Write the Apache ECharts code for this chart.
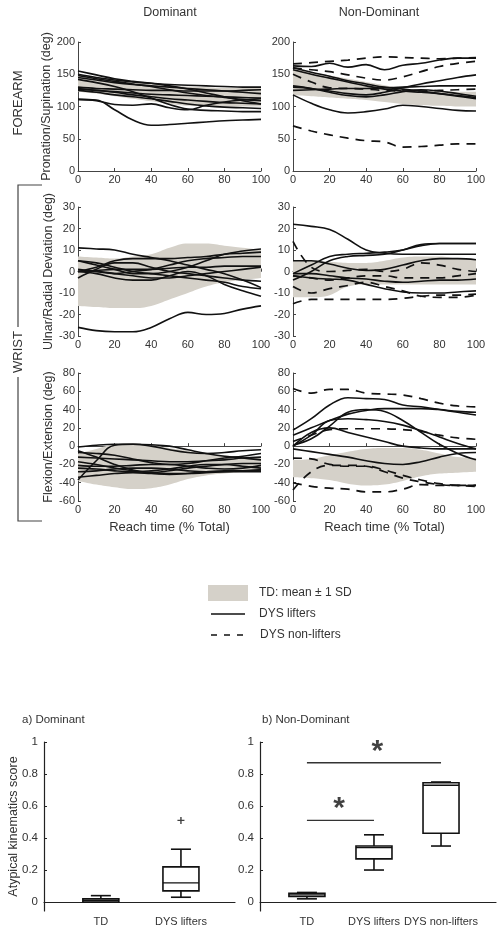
<!DOCTYPE html>
<html><head><meta charset="utf-8">
<script src="https://cdn.jsdelivr.net/npm/echarts@6/dist/echarts.min.js"></script>
<style>html,body{margin:0;padding:0;background:#fff}#c{width:499px;height:933px}</style>
</head><body><div id="c"></div><script>
// ---------- DATA ----------
const reachPct = [0,10,20,30,40,50,60,70,80,90,100];

// Forearm pronation/supination – Dominant
const domPS_bandLo = [123,120,116,112,108,104,101,100,100,100,100];
const domPS_bandHi = [150,146,142,139,136,133,131,130,129,129,129];
const domPS_lifters = [
  [155,149,143,139,136,132,127,121,115,109,104],
  [150,145,141,138,136,134,133,132,131,130,130],
  [145,141,137,134,132,130,128,126,124,122,120],
  [142,137,131,123,113,103,96,94,93,92,92],
  [130,128,127,126,125,125,124,124,124,125,126],
  [128,125,122,118,115,112,110,108,106,105,104],
  [125,122,118,115,112,108,104,101,99,98,97],
  [111,110,95,79,71,72,74,76,78,79,80],
  [111,109,103,102,104,98,95,102,107,110,112],
  [148,143,139,135,131,126,121,117,114,111,109],
  [127,125,123,121,119,118,117,116,115,114,113]
];
const domPS_nonlifters = [];

// Forearm pronation/supination – Non-Dominant
const ndPS_bandLo = [118,116,114,112,110,107,104,102,101,100,100];
const ndPS_bandHi = [158,153,148,143,138,133,128,125,124,123,123];
const ndPS_lifters = [
  [163,162,167,161,165,157,164,167,172,175,175],
  [160,153,147,140,135,130,127,124,120,116,112],
  [157,150,144,138,132,127,124,122,120,117,114],
  [130,128,124,120,118,122,129,135,140,145,149],
  [125,126,127,128,128,129,130,131,132,132,132],
  [132,128,122,117,115,118,123,126,124,120,116],
  [118,105,95,90,92,96,102,100,97,94,93]
];
const ndPS_nonlifters = [
  [166,168,170,172,175,177,176,175,174,175,176],
  [160,157,154,149,144,141,146,154,162,167,170],
  [70,62,56,51,47,45,37,38,40,42,42],
  [150,138,129,128,127,125,124,124,125,126,127]
];

// Wrist ulnar/radial deviation – Dominant
const domUR_bandLo = [-16,-16.5,-17,-17,-16,-13,-10,-7,-5,-4,-3];
const domUR_bandHi = [7,6.5,6,7,8,11,13,13,12,11,10];
const domUR_lifters = [
  [11,10.5,10,8,6.5,5,3,1,-1,-4,-7.5],
  [5,3,1,-1,-1,0,2,5,8,9.5,10.5],
  [0,2,5,6,6,6,6.5,7,8,8.5,9],
  [1,0,-1,0,1,3,5,6,6.5,7,7],
  [0,0.5,1,1,1,1.5,2,2,2.5,2.5,2.5],
  [-3,1,4,4,2,0,-1,-2,-3,-4,-4.5],
  [5,4,2,0,-1,-2,-3,-4,-5,-7,-8],
  [0,-1,-3,-4,-4,-2,0,-2,-6,-9,-11.5],
  [0,0,-1,-2,-3,-3,-2,-1,0,1,2],
  [-26,-27.5,-28,-28,-26,-22,-19,-20,-19.5,-17.5,-16]
];
const domUR_nonlifters = [];

// Wrist ulnar/radial deviation – Non-Dominant
const ndUR_bandLo = [-12,-12,-11,-7,-6,-6,-6,-6,-6,-6,-6];
const ndUR_bandHi = [5,5,4.5,4,4,5,6.5,7,7,6,5.5];
const ndUR_lifters = [
  [22,21,19.5,15,10,8.5,8,8,8,8,8],
  [-1,3,7,8,8.5,9,10,12,13,13,13],
  [5,5,3.5,1.5,0.5,1,3,5,6,6,5.5],
  [-4,0,5,7,7.5,8,10,12.5,13,13,13],
  [-2,-3,-3.5,-4,-6,-8,-9.5,-10,-10,-9.5,-9],
  [-1,-1,-2,-3,-3.5,-4.5,-5,-4.5,-4,-4,-3.5]
];
const ndUR_nonlifters = [
  [14,2,0,0.5,1,0,1,4,3,1,0],
  [-15,-13,-13,-13,-13,-13,-12.5,-11.5,-11,-11,-10.5],
  [-7,-10,-8,-6.5,-5,-7,-9,-11.5,-12,-12,-11],
  [-2,-3,-4,-3,-2,-2,-3,-3,-3,-2,-1]
];

// Wrist flexion/extension – Dominant
const domFE_bandLo = [-38,-42,-45,-47,-46,-42,-36,-32,-30,-28,-27];
const domFE_bandHi = [-8,-3,2,3,1,-2,-5,-8,-10,-12,-13];
const domFE_lifters = [
  [-37,-16,1,2,1.5,0,-4,-8,-11,-13,-15],
  [-1,1,2,2,0,-4,-7,-8,-7,-5,-4],
  [-7,-8,-10,-14,-18,-20,-19,-16,-13,-11,-8],
  [-12,-13,-14,-15,-16,-17,-17,-16,-15,-13,-12],
  [-17,-20,-24,-27,-29,-27,-24,-22,-20,-19,-19],
  [-21,-22,-22,-21,-20,-20,-22,-24,-25,-24,-21],
  [-24,-25,-27,-28,-27,-25,-22,-20,-20,-22,-24],
  [-28,-27,-25,-24,-24,-25,-27,-28,-28,-28,-28],
  [-34,-32,-30,-29,-30,-31,-30,-28,-27,-27,-26],
  [-5,-12,-20,-26,-29,-30,-30,-29,-28,-27,-26]
];
const domFE_nonlifters = [];

// Wrist flexion/extension – Non-Dominant
const ndFE_bandLo = [-34,-35,-37,-41,-43,-42,-38,-33,-30,-29,-28];
const ndFE_bandHi = [-15,-14,-10,-6,-3,-2,-2,-4,-8,-12,-13];
const ndFE_lifters = [
  [17.5,30,45,53,52,51,45,43,40,37,34],
  [12,20,28,35,39,41,41,41,40,38,37],
  [1,8,22,37,40,38,28,15,2,-8,-15],
  [0,12,28,30,29,27,23,17,10,3,-3],
  [0,15,20,15,10,5,0,-2,-3,-3,-3],
  [-3,-6,-9,-12,-16,-19,-20,-17,-12,-8,-7]
];
const ndFE_nonlifters = [
  [63,58,62,62,58,57,56,52,47,44,43],
  [5,12,18,19,19,19,18,16,12,9,7.5],
  [-48,-28,-21,-21,-22,-28,-35,-39,-42,-43,-43],
  [-40,-44,-46,-47,-50,-50,-47,-42,-43,-43,-43],
  [-13,-14,-20,-22,-22,-26,-32,-37,-41,-43,-44]
];

// Box plots: [lowerWhisker, q1, median, q3, upperWhisker]
const boxDomCats = ['TD','DYS lifters'];
const boxDomStats = [[0,0,0.01,0.02,0.04],[0.03,0.07,0.12,0.22,0.33]];
const boxDomOutliers = [[2,0.51]];
const boxNdCats = ['TD','DYS lifters','DYS non-lifters'];
const boxNdStats = [[0.02,0.035,0.045,0.055,0.06],[0.20,0.27,0.34,0.35,0.42],[0.35,0.43,0.73,0.745,0.75]];
const sigBars = [[1,3,0.87],[1,2,0.51]];
const sigStars = [[2.05,0.94],[1.48,0.58]];
const boxYTicks = [0,0.2,0.4,0.6,0.8,1];

// ---------- CHART ----------
const FONT = '"Liberation Sans", Arial, sans-serif';
const TXT = '#333';
const chart = echarts.init(document.getElementById('c'), null, {renderer:'canvas'});

const panels = [
  {g:{left:78,top:42,width:183,height:129}, y:[0,200,50], lo:domPS_bandLo, hi:domPS_bandHi, s:domPS_lifters, d:domPS_nonlifters, yName:'Pronation/Supination (deg)'},
  {g:{left:293,top:42,width:183,height:129}, y:[0,200,50], lo:ndPS_bandLo, hi:ndPS_bandHi, s:ndPS_lifters, d:ndPS_nonlifters},
  {g:{left:78,top:207,width:183,height:129}, y:[-30,30,10], lo:domUR_bandLo, hi:domUR_bandHi, s:domUR_lifters, d:domUR_nonlifters, yName:'Ulnar/Radial Deviation (deg)'},
  {g:{left:293,top:207,width:183,height:129}, y:[-30,30,10], lo:ndUR_bandLo, hi:ndUR_bandHi, s:ndUR_lifters, d:ndUR_nonlifters},
  {g:{left:78,top:373,width:183,height:128}, y:[-60,80,20], lo:domFE_bandLo, hi:domFE_bandHi, s:domFE_lifters, d:domFE_nonlifters, yName:'Flexion/Extension (deg)', xName:'Reach time (% Total)'},
  {g:{left:293,top:373,width:183,height:128}, y:[-60,80,20], lo:ndFE_bandLo, hi:ndFE_bandHi, s:ndFE_lifters, d:ndFE_nonlifters, xName:'Reach time (% Total)'}
];

const grid=[], xAxis=[], yAxis=[], series=[];
const axisLineStyle = {color:'#444', width:1};
panels.forEach((p,i)=>{
  grid.push(Object.assign({containLabel:false}, p.g));
  xAxis.push({type:'category', gridIndex:i, data:reachPct.map(String), boundaryGap:false,
    axisLine:{lineStyle:axisLineStyle}, axisTick:{inside:true,length:3,interval:1,lineStyle:axisLineStyle},
    axisLabel:{interval:1,color:TXT,fontSize:11,fontFamily:FONT,margin:3},
    splitLine:{show:false},
    name:p.xName||'', nameLocation:'middle', nameGap:20, nameTextStyle:{color:TXT,fontSize:13,fontFamily:FONT}});
  yAxis.push({type:'value', gridIndex:i, min:p.y[0], max:p.y[1], interval:p.y[2],
    axisLine:{show:true,lineStyle:axisLineStyle}, axisTick:{show:true,inside:true,length:3,lineStyle:axisLineStyle},
    axisLabel:{color:TXT,fontSize:11,fontFamily:FONT,margin:3}, splitLine:{show:false},
    name:p.yName||'', nameLocation:'middle', nameGap:23, nameTextStyle:{color:TXT,fontSize:12.5,fontFamily:FONT}});
  series.push({type:'line', xAxisIndex:i, yAxisIndex:i, data:p.lo, stack:'band'+i, stackStrategy:'all', smooth:0.4, symbol:'none',
    lineStyle:{opacity:0}, silent:true, z:1});
  series.push({type:'line', xAxisIndex:i, yAxisIndex:i, data:p.hi.map((v,k)=>v-p.lo[k]), stack:'band'+i, stackStrategy:'all', smooth:0.4, symbol:'none',
    lineStyle:{opacity:0}, areaStyle:{color:'#d5d1c9',opacity:1}, silent:true, z:1});
  p.s.forEach(arr=>series.push({type:'line', xAxisIndex:i, yAxisIndex:i, data:arr, smooth:0.4, symbol:'none',
    lineStyle:{color:'#111',width:1.6}, z:3}));
  p.d.forEach(arr=>series.push({type:'line', xAxisIndex:i, yAxisIndex:i, data:arr, smooth:0.4, symbol:'none',
    lineStyle:{color:'#111',width:1.7,type:[9,7]}, z:3}));
});

// Box plot grids
const boxGrids = [
  {g:{left:44,top:742,width:191,height:169}, xr:[0.29,2.675], cats:boxDomCats, stats:boxDomStats, yName:'Atypical kinematics score'},
  {g:{left:260,top:742,width:236,height:169}, xr:[0.3,3.82], cats:boxNdCats, stats:boxNdStats}
];
boxGrids.forEach((b,j)=>{
  const i = panels.length + j;
  grid.push(b.g);
  xAxis.push({type:'value', gridIndex:i, min:b.xr[0], max:b.xr[1],
    axisLine:{lineStyle:{color:'#222',width:1.2}}, axisTick:{show:false}, splitLine:{show:false},
    axisLabel:{customValues:b.cats.map((c,k)=>k+1), formatter:v=>b.cats[Math.round(v)-1]||'', hideOverlap:false,
      color:TXT,fontSize:11,fontFamily:FONT,margin:5}});
  yAxis.push({type:'value', gridIndex:i, min:-0.056, max:1,
    axisLine:{show:true,lineStyle:{color:'#222',width:1.2}},
    axisTick:{show:true,inside:true,length:3,customValues:boxYTicks,lineStyle:{color:'#222'}},
    axisLabel:{customValues:boxYTicks, formatter:v=>String(Math.round(v*10)/10), color:TXT,fontSize:11.5,fontFamily:FONT,margin:6},
    splitLine:{show:false},
    name:b.yName||'', nameLocation:'middle', nameGap:24, nameMoveOverlap:false, nameTextStyle:{color:TXT,fontSize:12.5,fontFamily:FONT}});
  series.push({type:'custom', xAxisIndex:i, yAxisIndex:i,
    data:b.stats.map((s,k)=>[k+1].concat(s)),
    renderItem:(params, api)=>{
      const x=api.value(0);
      const pLo=api.coord([x,api.value(1)]), pQ1=api.coord([x,api.value(2)]), pMed=api.coord([x,api.value(3)]),
            pQ3=api.coord([x,api.value(4)]), pHi=api.coord([x,api.value(5)]);
      const hw=18, cw=10, cx=pQ1[0];
      const st={stroke:'#111',lineWidth:1.6,fill:null};
      return {type:'group', children:[
        {type:'line',shape:{x1:cx,y1:pQ3[1],x2:cx,y2:pHi[1]},style:st},
        {type:'line',shape:{x1:cx,y1:pQ1[1],x2:cx,y2:pLo[1]},style:st},
        {type:'line',shape:{x1:cx-cw,y1:pHi[1],x2:cx+cw,y2:pHi[1]},style:st},
        {type:'line',shape:{x1:cx-cw,y1:pLo[1],x2:cx+cw,y2:pLo[1]},style:st},
        {type:'rect',shape:{x:cx-hw,y:pQ3[1],width:2*hw,height:Math.max(pQ1[1]-pQ3[1],1)},style:{stroke:'#111',lineWidth:1.6,fill:'#fff'}},
        {type:'line',shape:{x1:cx-hw,y1:pMed[1],x2:cx+hw,y2:pMed[1]},style:{stroke:'#111',lineWidth:1.4}}
      ]};
    }, z:3});
});
// outliers
series.push({type:'scatter', xAxisIndex:6, yAxisIndex:6, data:boxDomOutliers,
  symbol:'path://M4,0H6V4H10V6H6V10H4V6H0V4H4Z', symbolSize:7, itemStyle:{color:'#111'}, z:4});
// significance bars
sigBars.forEach(sb=>series.push({type:'line', xAxisIndex:7, yAxisIndex:7, data:[[sb[0],sb[2]],[sb[1],sb[2]]],
  symbol:'none', lineStyle:{color:'#333',width:1.4}, z:3}));
series.push({type:'scatter', xAxisIndex:7, yAxisIndex:7, data:sigStars, symbolSize:0,
  label:{show:true, formatter:'*', position:'inside', color:'#111', fontSize:30, fontFamily:FONT, fontWeight:'bold'}, z:4});

// graphics: titles, region labels, bracket, legend
const txt=(x,y,t,opt)=>Object.assign({type:'text',x:x,y:y,style:Object.assign({text:t,fill:TXT,font:'12.5px '+FONT,textAlign:'center',textVerticalAlign:'middle'},opt||{})});
const graphic=[
  txt(170,13,'Dominant'), txt(379,13,'Non-Dominant'),
  {type:'text',x:18,y:103,rotation:Math.PI/2,style:{text:'FOREARM',fill:TXT,font:'13px '+FONT,textAlign:'center',textVerticalAlign:'middle'}},
  {type:'text',x:18,y:352,rotation:Math.PI/2,style:{text:'WRIST',fill:TXT,font:'13px '+FONT,textAlign:'center',textVerticalAlign:'middle'}},
  {type:'polyline',shape:{points:[[42,185],[18,185],[18,327]]},style:{stroke:'#444',lineWidth:1.2,fill:null}},
  {type:'polyline',shape:{points:[[18,377],[18,521],[42,521]]},style:{stroke:'#444',lineWidth:1.2,fill:null}},
  {type:'rect',shape:{x:208,y:585,width:40,height:16},style:{fill:'#d5d1c9'}},
  {type:'line',shape:{x1:211,y1:614,x2:245,y2:614},style:{stroke:'#111',lineWidth:1.6}},
  {type:'line',shape:{x1:211,y1:635,x2:247,y2:635},style:{stroke:'#111',lineWidth:1.6,lineDash:[6,7]}},
  txt(259,593,'TD: mean \u00b1 1 SD',{textAlign:'left',font:'12px '+FONT}),
  txt(259,614,'DYS lifters',{textAlign:'left',font:'12px '+FONT}),
  txt(260,635,'DYS non-lifters',{textAlign:'left',font:'12px '+FONT}),
  txt(22,720,'a) Dominant',{textAlign:'left',font:'11.5px '+FONT}),
  txt(262,720,'b) Non-Dominant',{textAlign:'left',font:'11.5px '+FONT})
];

chart.setOption({animation:false, backgroundColor:'#fff', grid, xAxis, yAxis, series, graphic});
</script></body></html>
